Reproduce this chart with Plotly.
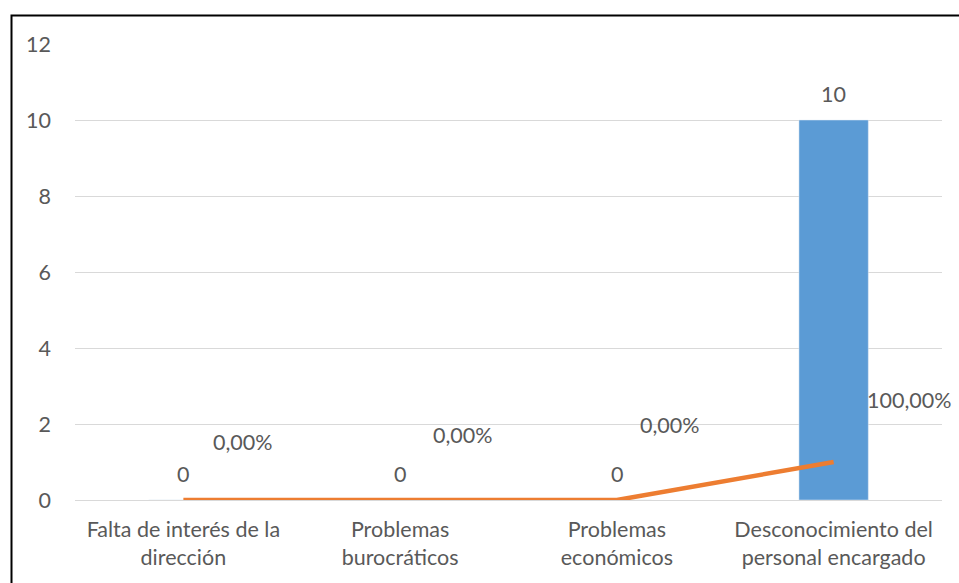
import plotly.graph_objects as go

categories = ["Falta de interés de la<br>dirección", "Problemas<br>burocráticos",
              "Problemas<br>económicos", "Desconocimiento del<br>personal encargado"]
counts = [0, 0, 0, 10]
share = [0.0, 0.0, 0.0, 1.0]
share_labels = ["0,00%", "0,00%", "0,00%", "100,00%"]
y_ticks = [0, 2, 4, 6, 8, 10, 12]

FONT = "Lato"
GREY = "#595959"
FS = 21.5

fig = go.Figure()
fig.add_trace(go.Bar(
    x=categories, y=counts, marker_color="#5b9bd5", width=0.32,
))
fig.add_trace(go.Scatter(
    x=categories, y=share, mode="lines",
    line=dict(color="#ed7d31", width=4.5), cliponaxis=False,
))

# bar data labels
for cat, val in zip(categories, counts):
    fig.add_annotation(x=cat, y=val, text=str(val), showarrow=False,
                       yshift=26, font=dict(family=FONT, size=FS, color=GREY))

# data labels of the line, offset as in the original
offsets = [(60, 58), (63, 65), (53, 75), (75, 62)]
for cat, val, lab, (dx, dy) in zip(categories, share, share_labels, offsets):
    fig.add_annotation(x=cat, y=val, text=lab, showarrow=False,
                       xshift=dx, yshift=dy,
                       font=dict(family=FONT, size=FS, color=GREY))

# outer border
fig.add_shape(type="rect", xref="paper", yref="paper",
              x0=(11.5 - 75) / 867, x1=(975 - 75) / 867,
              y0=(500 - 600) / 456, y1=(500 - 15.5) / 456,
              line=dict(color="black", width=2), fillcolor="rgba(0,0,0,0)",
              layer="above")

fig.update_layout(
    width=959, height=583,
    margin=dict(l=75, r=17, t=44, b=83, autoexpand=False),
    paper_bgcolor="white", plot_bgcolor="white",
    showlegend=False, bargap=0.68,
    font=dict(family=FONT, size=FS, color=GREY),
)
fig.update_yaxes(range=[0, 12], tickvals=y_ticks, showgrid=True,
                 gridcolor="#d9d9d9", gridwidth=1, zeroline=False,
                 showline=False, ticks="", ticklabelstandoff=23,
                 automargin=False,
                 tickfont=dict(family=FONT, size=FS, color=GREY))
fig.update_xaxes(showline=True, linecolor="#d9d9d9", linewidth=1,
                 ticks="", ticklabelstandoff=10, automargin=False,
                 range=[-0.5, 3.5],
                 tickfont=dict(family=FONT, size=FS, color=GREY))

fig.write_html(
    "out.html",
    config={"displayModeBar": False},
    post_script="document.body.style.margin='0';document.body.style.overflow='hidden';",
)
